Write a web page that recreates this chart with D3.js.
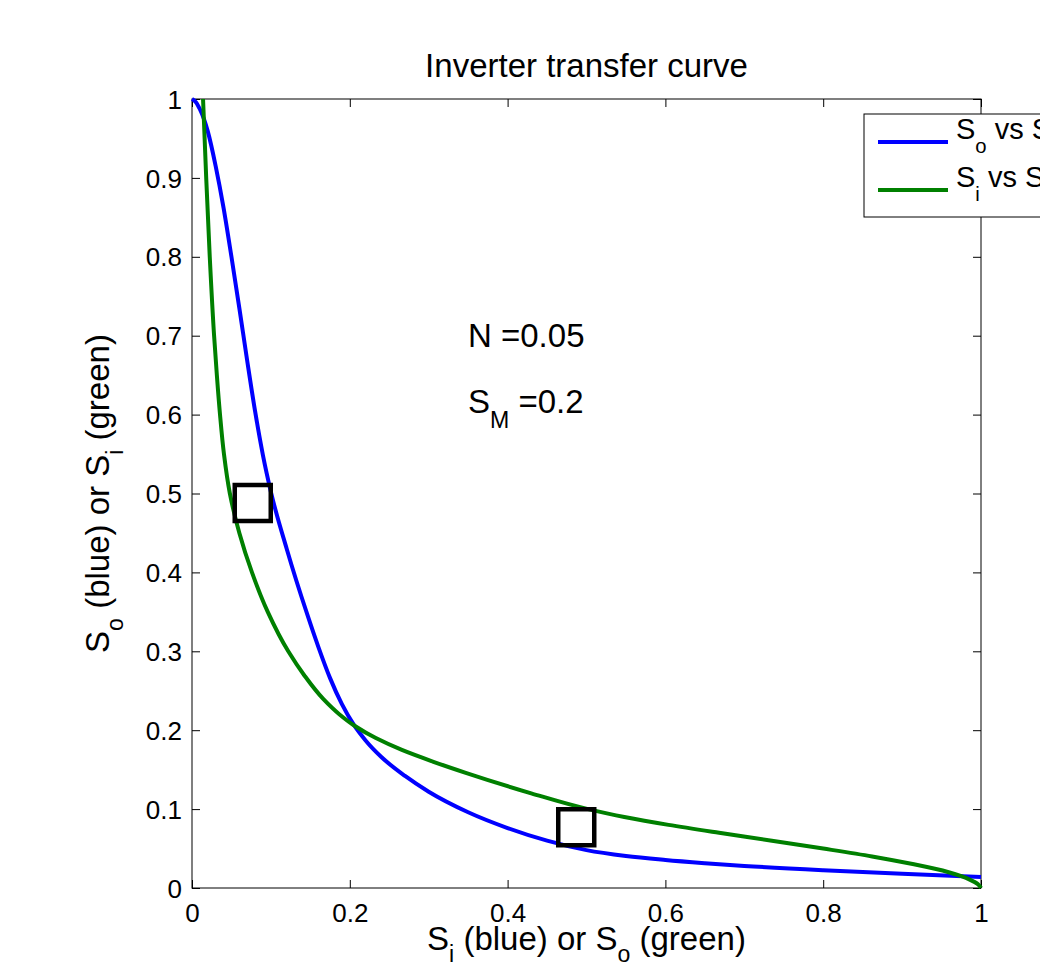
<!DOCTYPE html>
<html><head><meta charset="utf-8">
<script src="https://cdn.jsdelivr.net/npm/d3@7"></script>
<style>
html,body{margin:0;padding:0;background:#fff;}
text{font-family:"Liberation Sans",Arial,Helvetica,sans-serif;fill:#000;}
</style></head>
<body>
<svg id="chart" width="1040" height="967"></svg>
<script>
// Transfer curve: input Si -> output So (blue); green is the same data with axes swapped
const siValues = [0, 0.005, 0.01, 0.015, 0.02, 0.03, 0.04, 0.05, 0.06, 0.07, 0.08, 0.09, 0.10, 0.12, 0.146, 0.16, 0.175, 0.19, 0.205, 0.22, 0.24, 0.27, 0.30, 0.35, 0.40, 0.45, 0.50, 0.55, 0.60, 0.65, 0.70, 0.80, 0.90, 1.0];
const soValues = [1, 0.996, 0.987, 0.975, 0.959, 0.915, 0.862, 0.800, 0.735, 0.668, 0.604, 0.548, 0.502, 0.430, 0.347, 0.306, 0.266, 0.233, 0.207, 0.187, 0.166, 0.142, 0.122, 0.096, 0.076, 0.060, 0.048, 0.0405, 0.0355, 0.0315, 0.028, 0.0225, 0.018, 0.014];
const markerX = [0.077, 0.487];
const markerY = [0.488, 0.077];
const xTicks = [0, 0.2, 0.4, 0.6, 0.8, 1];
const yTicks = [0, 0.1, 0.2, 0.3, 0.4, 0.5, 0.6, 0.7, 0.8, 0.9, 1];
const legendLabels = [["S","o"," vs S","i"],["S","i"," vs S","o"]];
const colors = ["#0000ff", "#008000"];

const svg = d3.select("#chart");
const L = 192, R = 981, T = 99, B = 888;
const x = d3.scaleLinear().domain([0,1]).range([L,R]);
const y = d3.scaleLinear().domain([0,1]).range([B,T]);
const fmt = d => d3.format("~g")(d);
const FF = "Liberation Sans, Arial, sans-serif";

// axes box
svg.append("rect").attr("x",L).attr("y",T).attr("width",R-L).attr("height",B-T)
  .attr("fill","none").attr("stroke","#000").attr("stroke-width",1);

const tl = 8;
svg.append("g").attr("transform",`translate(0,${B})`)
  .call(d3.axisBottom(x).tickValues(xTicks).tickFormat(fmt).tickSizeInner(-tl).tickSizeOuter(0).tickPadding(16))
  .call(g=>{g.select(".domain").remove(); g.selectAll("text").attr("font-size",26).attr("font-family",FF).attr("dy","0.71em");});
svg.append("g").attr("transform",`translate(0,${T})`)
  .call(d3.axisTop(x).tickValues(xTicks).tickFormat("").tickSizeInner(-tl).tickSizeOuter(0))
  .call(g=>g.select(".domain").remove());
svg.append("g").attr("transform",`translate(${L},0)`)
  .call(d3.axisLeft(y).tickValues(yTicks).tickFormat(fmt).tickSizeInner(-tl).tickSizeOuter(0).tickPadding(10))
  .call(g=>{g.select(".domain").remove(); g.selectAll("text").attr("font-size",26).attr("font-family",FF).attr("dy","0.35em");});
svg.append("g").attr("transform",`translate(${R},0)`)
  .call(d3.axisRight(y).tickValues(yTicks).tickFormat("").tickSizeInner(-tl).tickSizeOuter(0))
  .call(g=>g.select(".domain").remove());
svg.selectAll(".tick line").attr("stroke","#000");

const pts = siValues.map((s,i)=>[s, soValues[i]]);
const lineBlue = d3.line().x(d=>x(d[0])).y(d=>y(d[1])).curve(d3.curveMonotoneX);
const lineGreen = d3.line().x(d=>x(d[1])).y(d=>y(d[0])).curve(d3.curveMonotoneY);

svg.append("path").datum(pts).attr("d",lineBlue).attr("fill","none")
  .attr("stroke",colors[0]).attr("stroke-width",4);
svg.append("path").datum(pts).attr("d",lineGreen).attr("fill","none")
  .attr("stroke",colors[1]).attr("stroke-width",4);

// square markers
svg.selectAll("path.mk").data(markerX.map((v,i)=>[v,markerY[i]])).enter().append("path")
  .attr("class","mk")
  .attr("transform",d=>`translate(${x(d[0])},${y(d[1])})`)
  .attr("d",d3.symbol().type(d3.symbolSquare).size(36*36))
  .attr("fill","none").attr("stroke","#000").attr("stroke-width",4.5);

// helper for text with subscripts: parts alternate normal, subscript
function subText(sel, parts, size, shift){
  parts.forEach((p,i)=>{
    const sub = i%2===1;
    const ts = sel.append("tspan").text(p).attr("font-size", sub? size*0.7 : size);
    if(sub) ts.attr("dy", shift);
    else if(i>0) ts.attr("dy", -shift);
  });
}

// title
svg.append("text").attr("x",(L+R)/2).attr("y",77).attr("text-anchor","middle")
  .attr("font-size",33).text("Inverter transfer curve");

// x label
const xl = svg.append("text").attr("x",(L+R)/2).attr("y",950).attr("text-anchor","middle");
subText(xl, ["S","i"," (blue) or S","o"," (green)"], 33, 12);

// y label
const yl = svg.append("text").attr("transform",`translate(109,${(T+B)/2}) rotate(-90)`).attr("text-anchor","middle");
subText(yl, ["S","o"," (blue) or S","i"," (green)"], 33, 14);

// annotations
svg.append("text").attr("x",468).attr("y",347).attr("font-size",33).text("N =0.05");
const sm = svg.append("text").attr("x",468).attr("y",413);
subText(sm, ["S","M"," =0.2"], 33, 15);

// legend
const lg = svg.append("g");
lg.append("rect").attr("x",864).attr("y",114).attr("width",300).attr("height",103)
  .attr("fill","#fff").attr("stroke","#000").attr("stroke-width",1);
const lyPos = [142, 190];
legendLabels.forEach((lab,i)=>{
  lg.append("line").attr("x1",878).attr("x2",948).attr("y1",lyPos[i]).attr("y2",lyPos[i])
    .attr("stroke",colors[i]).attr("stroke-width",4);
  const t = lg.append("text").attr("x",956).attr("y",lyPos[i]-3);
  subText(t, lab, 29, 14);
});
</script>
</body></html>
